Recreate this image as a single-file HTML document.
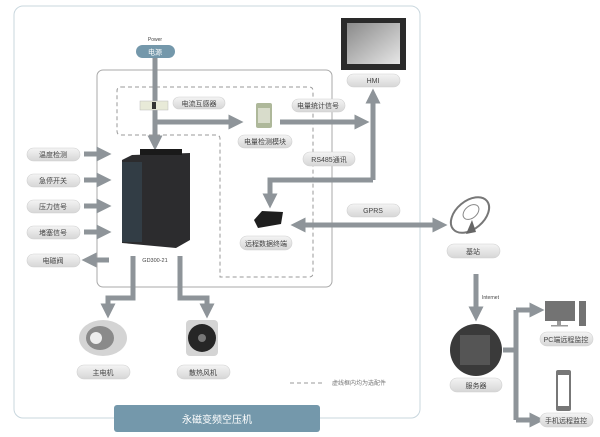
<!DOCTYPE html>
<html><head><meta charset="utf-8"><style>
body{margin:0;background:#fff}
svg{display:block}
text{font-family:"Liberation Sans","Noto Sans CJK SC",sans-serif;font-size:7px;fill:#444}
</style></head><body>
<svg width="600" height="437" viewBox="0 0 600 437" xmlns="http://www.w3.org/2000/svg">
<defs>
<linearGradient id="pg" x1="0" y1="0" x2="0" y2="1"><stop offset="0" stop-color="#f4f4f4"/><stop offset="1" stop-color="#d6d6d6"/></linearGradient>
<linearGradient id="sc" x1="0" y1="0" x2="1" y2="1"><stop offset="0" stop-color="#8a8a8a"/><stop offset="1" stop-color="#e6e6e6"/></linearGradient>
<marker id="ah" markerWidth="3" markerHeight="3" refX="1.5" refY="1.5" orient="auto" markerUnits="strokeWidth"><path d="M0,0 L3,1.5 L0,3 z" fill="#8e9499"/></marker>
<marker id="as" markerWidth="3" markerHeight="3" refX="1.5" refY="1.5" orient="auto-start-reverse" markerUnits="strokeWidth"><path d="M0,0 L3,1.5 L0,3 z" fill="#8e9499"/></marker>
</defs>
<rect x="14" y="6" width="406" height="412" rx="9" fill="none" stroke="#c9d7de" stroke-width="1"/>
<rect x="97" y="70" width="235" height="217" rx="6" fill="none" stroke="#a9a9a9" stroke-width="1"/>
<path d="M121,87 H309 Q313,87 313,91 V273 Q313,277 309,277 H220 V139 Q220,135 216,135 H121 Q117,135 117,131 V91 Q117,87 121,87 Z" fill="none" stroke="#999" stroke-dasharray="4,3"/>
<rect x="114" y="405" width="206" height="27" rx="3" fill="#7498ab"/>
<text x="217" y="423" text-anchor="middle" style="font-size:10px;fill:#fff">永磁变频空压机</text>

<g fill="none" stroke="#8e9499" stroke-width="5">
<path d="M155,58 V143" marker-end="url(#ah)"/>
<path d="M155,122 H236" marker-end="url(#ah)"/>
<path d="M280,122 H362" marker-end="url(#ah)"/>
<path d="M373,180 V96" marker-end="url(#ah)"/>
<path d="M373,180 H270 V201" marker-end="url(#ah)"/>
<path d="M298,225 H440" marker-end="url(#ah)" marker-start="url(#as)"/>
<path d="M84,154 H104" marker-end="url(#ah)"/>
<path d="M84,180 H104" marker-end="url(#ah)"/>
<path d="M84,206 H104" marker-end="url(#ah)"/>
<path d="M84,232 H104" marker-end="url(#ah)"/>
<path d="M109,260 H89" marker-end="url(#ah)"/>
<path d="M133,256 V298 H108 V311" marker-end="url(#ah)"/>
<path d="M180,256 V298 H207 V311" marker-end="url(#ah)"/>
<path d="M476,274 V314" marker-end="url(#ah)"/>
<path d="M503,350 H516 M516,310 V420"/>
<path d="M516,310 H537" marker-end="url(#ah)"/>
<path d="M516,420 H537" marker-end="url(#ah)"/>
</g>

<g stroke="#d0d0d0" stroke-width="0.6" fill="url(#pg)">
<rect x="136" y="45" width="39" height="13" rx="6.5" fill="#7498ab" stroke="none"/>
<rect x="173" y="97" width="52" height="12" rx="6"/>
<rect x="238" y="135" width="54" height="13" rx="6.5"/>
<rect x="292" y="99" width="53" height="13" rx="6.5"/>
<rect x="347" y="74" width="53" height="13" rx="6.5"/>
<rect x="303" y="152" width="52" height="14" rx="7"/>
<rect x="240" y="236" width="52" height="14" rx="7"/>
<rect x="347" y="204" width="53" height="13" rx="6.5"/>
<rect x="447" y="244" width="53" height="14" rx="7"/>
<rect x="27" y="148" width="53" height="13" rx="6.5"/>
<rect x="27" y="174" width="53" height="13" rx="6.5"/>
<rect x="27" y="200" width="53" height="13" rx="6.5"/>
<rect x="27" y="226" width="53" height="13" rx="6.5"/>
<rect x="27" y="254" width="53" height="13" rx="6.5"/>
<rect x="77" y="365" width="53" height="14" rx="7"/>
<rect x="177" y="365" width="53" height="14" rx="7"/>
<rect x="450" y="378" width="52" height="14" rx="7"/>
<rect x="540" y="332" width="53" height="14" rx="7"/>
<rect x="540" y="413" width="53" height="14" rx="7"/>
</g>
<text x="155" y="41" text-anchor="middle" style="font-size:5px">Power</text>
<text x="155" y="54.5" text-anchor="middle" style="fill:#fff">电源</text>
<text x="199" y="106" text-anchor="middle">电流互感器</text>
<text x="265" y="144" text-anchor="middle">电量检测模块</text>
<text x="318" y="108" text-anchor="middle">电量统计信号</text>
<text x="373" y="83" text-anchor="middle">HMI</text>
<text x="329" y="162" text-anchor="middle">RS485通讯</text>
<text x="266" y="246" text-anchor="middle">远程数据终端</text>
<text x="373" y="213" text-anchor="middle">GPRS</text>
<text x="473" y="254" text-anchor="middle">基站</text>
<text x="53" y="157" text-anchor="middle">温度检测</text>
<text x="53" y="183" text-anchor="middle">急停开关</text>
<text x="53" y="209" text-anchor="middle">压力信号</text>
<text x="53" y="235" text-anchor="middle">堵塞信号</text>
<text x="53" y="263" text-anchor="middle">电磁阀</text>
<text x="103" y="375" text-anchor="middle">主电机</text>
<text x="203" y="375" text-anchor="middle">散热风机</text>
<text x="476" y="388" text-anchor="middle">服务器</text>
<text x="566" y="342" text-anchor="middle">PC端远程监控</text>
<text x="566" y="423" text-anchor="middle">手机远程监控</text>
<text x="155" y="262" text-anchor="middle" style="font-size:5.5px">GD300-21</text>
<text x="482" y="299" style="font-size:5px">Internet</text>
<line x1="290" y1="383" x2="322" y2="383" stroke="#999" stroke-dasharray="4,3"/>
<text x="332" y="385" style="font-size:6px;fill:#777">虚线框内均为选配件</text>

<rect x="140" y="101" width="28" height="9" fill="#e8ead8" stroke="#bbb" stroke-width="0.5"/>
<rect x="152" y="102" width="4" height="7" fill="#333"/>
<rect x="256" y="103" width="16" height="25" rx="2" fill="#aeb89a"/>
<rect x="258" y="108" width="12" height="15" fill="#d8dccb"/>
<rect x="341" y="18" width="65" height="52" fill="#2a2a2a"/>
<rect x="347" y="23" width="53" height="41" fill="url(#sc)"/>
<path d="M254,220 L262,211 L283,212 L281,224 L258,228 Z" fill="#1e1e1e"/>
<ellipse cx="470" cy="215" rx="22" ry="14" fill="none" stroke="#777" stroke-width="2" transform="rotate(-40 470 215)"/>
<ellipse cx="471" cy="212" rx="9" ry="6" fill="none" stroke="#888" transform="rotate(-40 471 212)"/>
<path d="M472,220 L466,234 L476,232 Z" fill="#666"/>
<path d="M122,160 L132,155 L190,153 L190,240 L176,248 L122,243 Z" fill="#2c2c2e"/>
<rect x="122" y="162" width="20" height="80" fill="#354550" opacity="0.7"/>
<rect x="140" y="149" width="42" height="6" fill="#1a1a1a"/>
<ellipse cx="103" cy="338" rx="24" ry="18" fill="#d4d4d4"/>
<ellipse cx="100" cy="338" rx="14" ry="12" fill="#8a8a8a"/>
<ellipse cx="96" cy="338" rx="6" ry="6" fill="#eee"/>
<rect x="186" y="320" width="32" height="36" rx="4" fill="#d4d4d4"/>
<circle cx="202" cy="338" r="14" fill="#262626"/>
<circle cx="202" cy="338" r="4" fill="#777"/>
<circle cx="476" cy="350" r="26" fill="#3a3a3a"/>
<rect x="460" y="335" width="30" height="30" fill="#555"/>
<rect x="545" y="301" width="30" height="20" fill="#737373"/>
<rect x="557" y="321" width="4" height="4" fill="#999"/>
<rect x="551" y="325" width="17" height="1.5" fill="#999"/>
<rect x="579" y="301" width="7" height="25" fill="#737373"/>
<rect x="556" y="370" width="15" height="41" rx="2" fill="#777"/>
<rect x="558" y="375" width="11" height="31" fill="#fff"/>
</svg>
</body></html>
